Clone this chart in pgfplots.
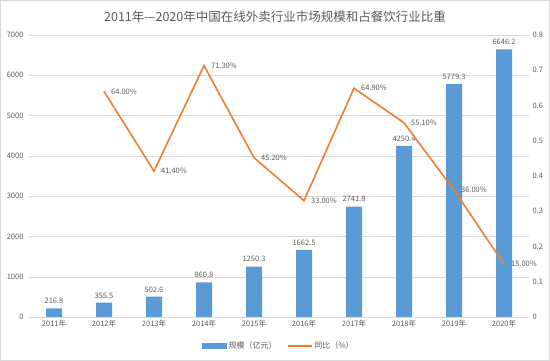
\documentclass[border=0pt]{standalone}
\usepackage{pgfplots}
\pgfplotsset{compat=1.18}
\usepackage{fontspec}
\setmainfont{Noto Sans CJK SC}
\definecolor{txt}{HTML}{595959}
\definecolor{barblue}{HTML}{5B9BD5}
\definecolor{lineorange}{HTML}{ED7D31}
\definecolor{gridgray}{HTML}{D9D9D9}
\begin{document}
\begin{tikzpicture}[x=1pt,y=1pt]
\draw[gridgray] (0.5,0.5) rectangle (549.5,360.5);
\useasboundingbox (0,0) rectangle (550,361);
\node[text=txt, font=\fontsize{12.5}{14}\selectfont] at (275,344) {2011年—2020年中国在线外卖行业市场规模和占餐饮行业比重};
\begin{axis}[at={(29pt,44pt)}, anchor=south west, scale only axis,
  width=500pt, height=282pt,
  xmin=-0.5, xmax=9.5, ymin=0, ymax=7000,
  ytick={0,1000,2000,3000,4000,5000,6000,7000},
  xtick={0,...,9},
  xticklabels={2011年,2012年,2013年,2014年,2015年,2016年,2017年,2018年,2019年,2020年},
  axis y line*=left, axis x line*=bottom,
  y axis line style={draw=none}, x axis line style={gridgray},
  ymajorgrids, grid style={gridgray},
  tick style={draw=none},
  ticklabel style={text=txt, font=\fontsize{7.5}{9}\selectfont},
  /pgf/number format/assume math mode=true,
  /pgf/number format/1000 sep={},
  scaled y ticks=false, clip=false,
  yticklabel style={xshift=-2pt},
]
\addplot[ybar, bar width=16pt, fill=barblue, draw=none,
  nodes near coords, point meta=explicit symbolic,
  every node near coord/.style={text=txt, font=\fontsize{7.5}{9}\selectfont, anchor=south, yshift=1pt}]
  coordinates {(0,216.8)[216.8] (1,355.5)[355.5] (2,502.6)[502.6] (3,860.8)[860.8] (4,1250.3)[1250.3]
  (5,1662.5)[1662.5] (6,2741.8)[2741.8] (7,4250.4)[4250.4] (8,5779.3)[5779.3] (9,6646.2)[6646.2]};
\end{axis}
\begin{axis}[at={(29pt,44pt)}, anchor=south west, scale only axis,
  width=500pt, height=282pt,
  xmin=-0.5, xmax=9.5, ymin=0, ymax=0.8,
  ytick={0,0.1,0.2,0.3,0.4,0.5,0.6,0.7,0.8},
  axis y line*=right, hide x axis,
  y axis line style={draw=none}, tick style={draw=none},
  ticklabel style={text=txt, font=\fontsize{7.5}{9}\selectfont},
  /pgf/number format/assume math mode=true,
  clip=false,
  legend style={at={(0.5,-0.103)}, anchor=center, draw=none, fill=none,
    legend columns=2, font=\fontsize{8}{10}\selectfont, text=txt,
    /tikz/every even column/.append style={column sep=8pt}},
]
\addlegendimage{legend image code/.code={\fill[barblue] (0pt,-2.5pt) rectangle (24pt,2.5pt);}}
\addlegendentry{规模（亿元）}
\addplot[lineorange, line width=1.6pt, mark=none,
  legend image code/.code={\draw[lineorange, line width=1.6pt] (0pt,0pt) -- (24pt,0pt);},
  nodes near coords, point meta=explicit symbolic,
  every node near coord/.style={text=txt, font=\fontsize{7.5}{9}\selectfont, anchor=west, xshift=3pt}]
  coordinates {(1,0.64)[64.00\%] (2,0.414)[41.40\%] (3,0.713)[71.30\%] (4,0.452)[45.20\%]
  (5,0.33)[33.00\%] (6,0.649)[64.90\%] (7,0.551)[55.10\%] (8,0.36)[36.00\%] (9,0.15)[15.00\%]};
\addlegendentry{同比（\%）}
\end{axis}
\end{tikzpicture}
\end{document}
